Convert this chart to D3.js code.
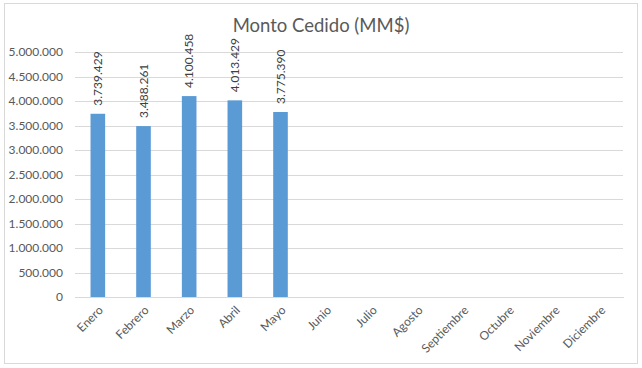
<!DOCTYPE html>
<html><head><meta charset="utf-8">
<script src="https://cdn.jsdelivr.net/npm/d3@7"></script>
<style>body{margin:0;background:#fff;} svg{display:block;font-family:Lato,"Open Sans",sans-serif;}</style>
</head><body><svg id="c" width="642" height="368"></svg>
<script>
const months = ["Enero","Febrero","Marzo","Abril","Mayo","Junio","Julio","Agosto","Septiembre","Octubre","Noviembre","Diciembre"];
const values = [3739429,3488261,4100458,4013429,3775390,null,null,null,null,null,null,null];
const yTicks = [0,500000,1000000,1500000,2000000,2500000,3000000,3500000,4000000,4500000,5000000];
const title = "Monto Cedido (MM$)";

(function(){
const svg = d3.select("#c");
const fmt = v => d3.format(",")(v).replace(/,/g,".");
svg.append("rect").attr("x",4.5).attr("y",3.5).attr("width",633).attr("height",360)
  .attr("fill","#fff").attr("stroke","#d9d9d9");

const pL=75,pR=623,pT=52,pB=297;
const x = d3.scaleBand().domain(months).range([pL,pR]).paddingInner(0.68).paddingOuter(0.34);
const y = d3.scaleLinear().domain([0,5000000]).range([pB,pT]);

const yAxis = svg.append("g").attr("transform",`translate(${pL},0)`)
  .call(d3.axisLeft(y).tickValues(yTicks).tickFormat(fmt).tickSize(-(pR-pL)).tickPadding(12));
yAxis.select(".domain").remove();
yAxis.selectAll("line").attr("stroke","#d9d9d9").attr("shape-rendering","crispEdges");
yAxis.selectAll("text").attr("fill","#595959").style("font-size","12px").style("font-family","Lato,sans-serif");

const data = months.map((m,i)=>({m,v:values[i]})).filter(d=>d.v!=null);
svg.selectAll("rect.bar").data(data).enter().append("rect").attr("class","bar")
  .attr("x",d=>x(d.m)).attr("width",x.bandwidth())
  .attr("y",d=>y(d.v)).attr("height",d=>pB-y(d.v)).attr("fill","#5b9bd5");

svg.selectAll("text.lbl").data(data).enter().append("text").attr("class","lbl")
  .attr("transform",d=>`translate(${x(d.m)+x.bandwidth()/2+4},${y(d.v)-8}) rotate(-90)`)
  .attr("fill","#404040").style("font-size","12px").text(d=>fmt(d.v));

const xAxis = svg.append("g").attr("transform",`translate(0,${pB})`)
  .call(d3.axisBottom(x).tickSize(0).tickPadding(0));
xAxis.select(".domain").attr("stroke","#d9d9d9").attr("shape-rendering","crispEdges");
xAxis.selectAll("text").attr("text-anchor","end").attr("dy",null).attr("y",0)
  .attr("transform","translate(6,14) rotate(-45)")
  .attr("fill","#595959").style("font-size","12px").style("font-family","Lato,sans-serif");

svg.append("text").attr("x",321).attr("y",32).attr("text-anchor","middle")
  .attr("fill","#595959").style("font-size","18.5px").text(title);
})();
</script></body></html>
